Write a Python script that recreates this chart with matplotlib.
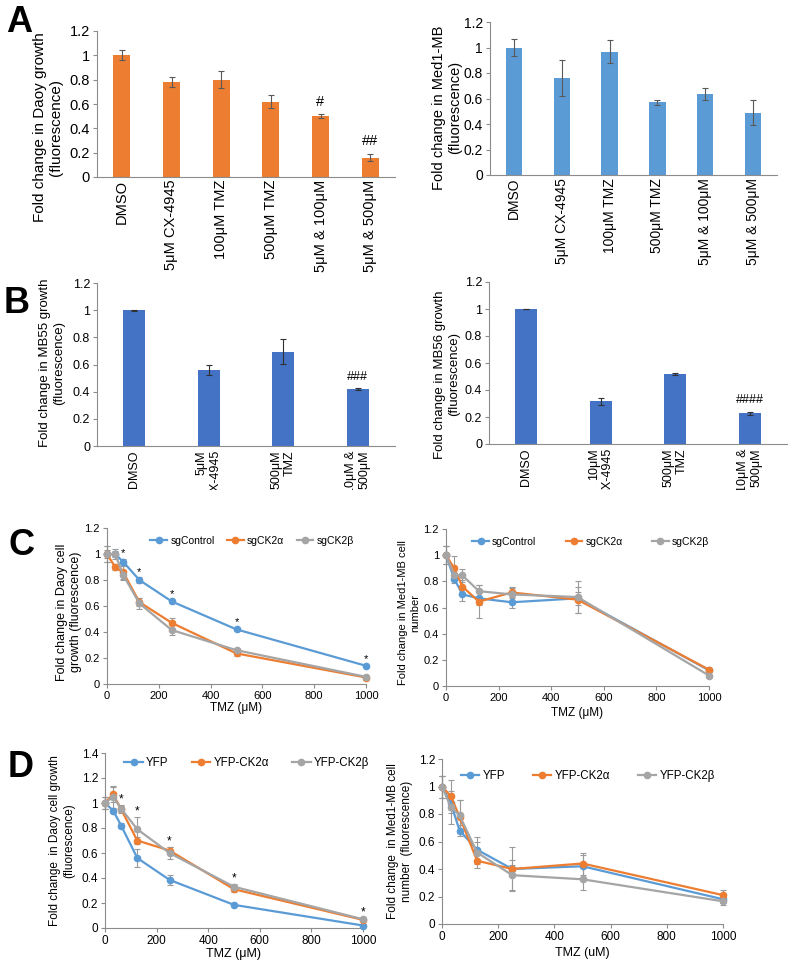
import numpy as np
import matplotlib.pyplot as plt
from matplotlib.lines import Line2D
from matplotlib.transforms import Bbox, TransformedBbox

plt.rcParams['font.family'] = ['Liberation Sans', 'DejaVu Sans']

# ---- data: panel A (bars) ----
a_labels = ['DMSO', '5μM CX-4945', '100μM TMZ', '500μM TMZ', '5μM & 100μM', '5μM & 500μM']
daoy_bar = [1.0, 0.78, 0.80, 0.62, 0.50, 0.16]
daoy_bar_err = [0.04, 0.04, 0.07, 0.055, 0.015, 0.03]
daoy_bar_sig = ['', '', '', '', '#', '##']
med1_bar = [1.0, 0.76, 0.965, 0.57, 0.635, 0.49]
med1_bar_err = [0.065, 0.14, 0.09, 0.02, 0.045, 0.095]

# ---- data: panel B (bars) ----
mb55_labels = ['DMSO', '5μM\nCX-4945', '500μM\nTMZ', '10μM &\n500μM']
mb55_bar = [1.0, 0.56, 0.695, 0.42]
mb55_err = [0.003, 0.035, 0.09, 0.005]
mb55_sig = ['', '', '', '###']
mb56_labels = ['DMSO', '10μM\nCX-4945', '500μM\nTMZ', '10μM &\n500μM']
mb56_bar = [1.0, 0.315, 0.52, 0.228]
mb56_err = [0.003, 0.025, 0.008, 0.01]
mb56_sig = ['', '', '', '####']

# ---- data: panels C and D (dose curves) ----
tmz = [0, 31.25, 62.5, 125, 250, 500, 1000]

c_daoy_ctrl = [1.0, 1.0, 0.94, 0.80, 0.635, 0.42, 0.14]
c_daoy_a = [1.0, 0.90, 0.86, 0.63, 0.47, 0.235, 0.05]
c_daoy_b = [1.0, 1.0, 0.84, 0.62, 0.415, 0.26, 0.055]
c_daoy_ctrl_err = [0.06, 0.02, 0.02, 0.02, 0.01, 0.01, 0.01]
c_daoy_a_err = [0.03, 0.02, 0.05, 0.03, 0.04, 0.02, 0.01]
c_daoy_b_err = [0.06, 0.04, 0.04, 0.04, 0.04, 0.02, 0.01]
c_daoy_star = [False, False, True, True, True, True, True]

c_med1_ctrl = [1.0, 0.82, 0.70, 0.67, 0.64, 0.67, 0.12]
c_med1_a = [1.0, 0.90, 0.76, 0.645, 0.715, 0.66, 0.125]
c_med1_b = [1.0, 0.85, 0.845, 0.725, 0.70, 0.68, 0.08]
c_med1_ctrl_err = [0.07, 0.03, 0.05, 0.05, 0.04, 0.05, 0.01]
c_med1_a_err = [0.07, 0.09, 0.05, 0.125, 0.04, 0.10, 0.01]
c_med1_b_err = [0.07, 0.05, 0.05, 0.05, 0.05, 0.12, 0.01]

d_daoy_yfp = [1.0, 0.94, 0.82, 0.56, 0.385, 0.185, 0.02]
d_daoy_a = [1.0, 1.07, 0.95, 0.70, 0.62, 0.31, 0.065]
d_daoy_b = [1.0, 1.05, 0.955, 0.79, 0.60, 0.33, 0.07]
d_daoy_yfp_err = [0.05, 0.02, 0.02, 0.07, 0.04, 0.01, 0.01]
d_daoy_a_err = [0.05, 0.06, 0.03, 0.03, 0.03, 0.02, 0.01]
d_daoy_b_err = [0.05, 0.09, 0.03, 0.10, 0.05, 0.02, 0.01]
d_daoy_star = [False, False, True, True, True, True, True]

d_med1_yfp = [1.0, 0.88, 0.68, 0.54, 0.40, 0.42, 0.18]
d_med1_a = [1.0, 0.93, 0.78, 0.46, 0.40, 0.44, 0.21]
d_med1_b = [1.0, 0.85, 0.79, 0.52, 0.355, 0.325, 0.165]
d_med1_yfp_err = [0.08, 0.05, 0.04, 0.09, 0.16, 0.08, 0.03]
d_med1_a_err = [0.08, 0.12, 0.12, 0.05, 0.03, 0.08, 0.035]
d_med1_b_err = [0.08, 0.12, 0.11, 0.08, 0.11, 0.08, 0.03]

ORANGE = '#ED7D31'
LBLUE = '#5B9BD5'
DBLUE = '#4472C4'
GREY = '#A5A5A5'
AXC = '#8C8C8C'

W, H = 800, 969
fig = plt.figure(figsize=(W / 100, H / 100), dpi=100)


def px_axes(x0, ytop, x1, ybot):
    return fig.add_axes([x0 / W, 1 - ybot / H, (x1 - x0) / W, (ybot - ytop) / H])


def style(ax, fs):
    for s in ['top', 'right']:
        ax.spines[s].set_visible(False)
    for s in ['left', 'bottom']:
        ax.spines[s].set_color(AXC)
        ax.spines[s].set_linewidth(0.8)
    ax.tick_params(color=AXC, labelsize=fs, length=3, width=0.8, pad=2)


def bar_panel(ax, labels, vals, errs, color, fs, lfs, width, ecolor, sig=None, pad=2):
    x = np.arange(len(vals))
    ax.bar(x, vals, width=width, color=color, yerr=errs, ecolor=ecolor,
           error_kw=dict(elinewidth=0.8, capsize=2.5, capthick=0.8))
    ax.set_xlim(-0.5, len(vals) - 0.5)
    ax.set_ylim(0, 1.2)
    ax.set_yticks([0, 0.2, 0.4, 0.6, 0.8, 1, 1.2])
    ax.set_yticklabels(['0', '0.2', '0.4', '0.6', '0.8', '1', '1.2'])
    ax.set_xticks(x)
    ax.set_xticklabels(labels, rotation=90, fontsize=lfs, va='top', ha='center',
                       multialignment='right')
    style(ax, fs)
    ax.tick_params(axis='x', length=0, pad=pad)
    if sig:
        for xi, v, e, s in zip(x, vals, errs, sig):
            if s:
                ax.annotate(s, (xi, v + e), xytext=(0, 4), textcoords='offset points',
                            ha='center', va='bottom', fontsize=fs)


def line_panel(ax, series, errs, names, colors, ymax, fs, star=None):
    handles = []
    for y, e, n, c in zip(series, errs, names, colors):
        ax.errorbar(tmz, y, yerr=e, fmt='none', ecolor='#9A9A9A', elinewidth=0.8,
                    capsize=2, capthick=0.8, clip_on=False, zorder=2)
        ax.plot(tmz, y, color=c, marker='o', ms=4.5, lw=1.6, clip_on=False, zorder=3)
        handles.append(Line2D([], [], color=c, marker='o', ms=4.5, lw=1.6, label=n))
    ax.set_xlim(0, 1000)
    ax.set_ylim(0, ymax)
    ax.set_xticks([0, 200, 400, 600, 800, 1000])
    ticks = np.round(np.arange(0, ymax + 0.001, 0.2), 1)
    ax.set_yticks(ticks)
    ax.set_yticklabels([f'{t:g}' for t in ticks])
    style(ax, fs)
    if star:
        top = np.max(np.array(series) + np.array(errs), axis=0)
        for xi, t, s in zip(tmz, top, star):
            if s:
                ax.annotate('*', (xi, t), xytext=(0, 2), textcoords='offset points',
                            ha='center', va='baseline', fontsize=fs)
    return handles


# ---- A ----
ax = px_axes(97, 31, 395, 177)
bar_panel(ax, a_labels, daoy_bar, daoy_bar_err, ORANGE, 10.5, 8.8, 0.34, '#595959', daoy_bar_sig)
ax.set_ylabel('Fold change in Daoy growth\n(fluorescence)', fontsize=11)
ax.yaxis.set_label_coords(-0.114, 0.34)

ax = px_axes(490, 22, 777, 175)
bar_panel(ax, a_labels, med1_bar, med1_bar_err, LBLUE, 10, 8, 0.34, '#595959')
ax.set_ylabel('Fold change in Med1-MB\n(fluorescence)', fontsize=10.5)
ax.yaxis.set_label_coords(-0.098, 0.44)

# ---- B ----
clip = TransformedBbox(Bbox([[0, 1 - 490 / H], [1, 1]]), fig.transFigure)
ax = px_axes(97, 283, 395, 446)
bar_panel(ax, mb55_labels, mb55_bar, mb55_err, DBLUE, 9, 8.5, 0.3, '#303030', mb55_sig, pad=3)
ax.set_ylabel('Fold change in MB55 growth\n(fluorescence)', fontsize=9.5)
ax.yaxis.set_label_coords(-0.107, 0.51)
for t in ax.get_xticklabels():
    t.set_clip_box(clip)
    t.set_clip_on(True)

ax = px_axes(489, 282, 787, 444)
bar_panel(ax, mb56_labels, mb56_bar, mb56_err, DBLUE, 9, 8.5, 0.3, '#303030', mb56_sig, pad=3)
ax.set_ylabel('Fold change in MB56 growth\n(fluorescence)', fontsize=9.5)
ax.yaxis.set_label_coords(-0.097, 0.43)
for t in ax.get_xticklabels():
    t.set_clip_box(clip)
    t.set_clip_on(True)

# ---- C ----
ax = px_axes(107, 528, 366, 684)
h = line_panel(ax, [c_daoy_ctrl, c_daoy_a, c_daoy_b],
               [c_daoy_ctrl_err, c_daoy_a_err, c_daoy_b_err],
               ['sgControl', 'sgCK2α', 'sgCK2β'], [LBLUE, ORANGE, GREY], 1.2, 8, c_daoy_star)
ax.set_ylabel('Fold change in Daoy cell\ngrowth (fluorescence)', fontsize=9)
ax.yaxis.set_label_coords(-0.097, 0.46)
ax.set_xlabel('TMZ (μM)', fontsize=8.5, labelpad=1)
ax.legend(handles=h, loc='center', bbox_to_anchor=(0.56, 0.917), ncol=3, frameon=False,
          fontsize=7.5, handlelength=1.6, columnspacing=1.2, handletextpad=0.3)

ax = px_axes(446, 529, 709, 686)
h = line_panel(ax, [c_med1_ctrl, c_med1_a, c_med1_b],
               [c_med1_ctrl_err, c_med1_a_err, c_med1_b_err],
               ['sgControl', 'sgCK2α', 'sgCK2β'], [LBLUE, ORANGE, GREY], 1.2, 8)
ax.set_ylabel('Fold change in Med1-MB cell\nnumber', fontsize=8)
ax.yaxis.set_label_coords(-0.099, 0.465)
ax.set_xlabel('TMZ (μM)', fontsize=8.5, labelpad=3)
ax.legend(handles=h, loc='center', bbox_to_anchor=(0.55, 0.917), ncol=3, frameon=False,
          fontsize=7.5, handlelength=1.6, columnspacing=2.8, handletextpad=0.3)

# ---- D ----
ax = px_axes(105, 753, 363, 928)
h = line_panel(ax, [d_daoy_yfp, d_daoy_a, d_daoy_b],
               [d_daoy_yfp_err, d_daoy_a_err, d_daoy_b_err],
               ['YFP', 'YFP-CK2α', 'YFP-CK2β'], [LBLUE, ORANGE, GREY], 1.4, 8.5, d_daoy_star)
ax.set_ylabel('Fold change  in Daoy cell growth\n(fluorescence)', fontsize=8.5)
ax.yaxis.set_label_coords(-0.116, 0.50)
ax.set_xlabel('TMZ (μM)', fontsize=9, labelpad=1)
ax.legend(handles=h, loc='center', bbox_to_anchor=(0.55, 0.943), ncol=3, frameon=False,
          fontsize=8.3, handlelength=1.6, columnspacing=2.0, handletextpad=0.3)

ax = px_axes(442, 759, 723, 924)
h = line_panel(ax, [d_med1_yfp, d_med1_a, d_med1_b],
               [d_med1_yfp_err, d_med1_a_err, d_med1_b_err],
               ['YFP', 'YFP-CK2α', 'YFP-CK2β'], [LBLUE, ORANGE, GREY], 1.2, 8.5)
ax.set_ylabel('Fold change  in Med1-MB cell\nnumber  (fluorescence)', fontsize=8.5)
ax.yaxis.set_label_coords(-0.103, 0.50)
ax.set_xlabel('TMZ (uM)', fontsize=9, labelpad=3)
ax.legend(handles=h, loc='center', bbox_to_anchor=(0.52, 0.897), ncol=3, frameon=False,
          fontsize=8.3, handlelength=1.6, columnspacing=2.4, handletextpad=0.3)

# panel letters
for letter, x, yb in [('A', 6, 32), ('B', 4, 313), ('C', 8, 555), ('D', 8, 777)]:
    fig.text(x / W, 1 - yb / H, letter, fontsize=26, fontweight='bold', va='baseline')

fig.savefig('out.png', dpi=100)
